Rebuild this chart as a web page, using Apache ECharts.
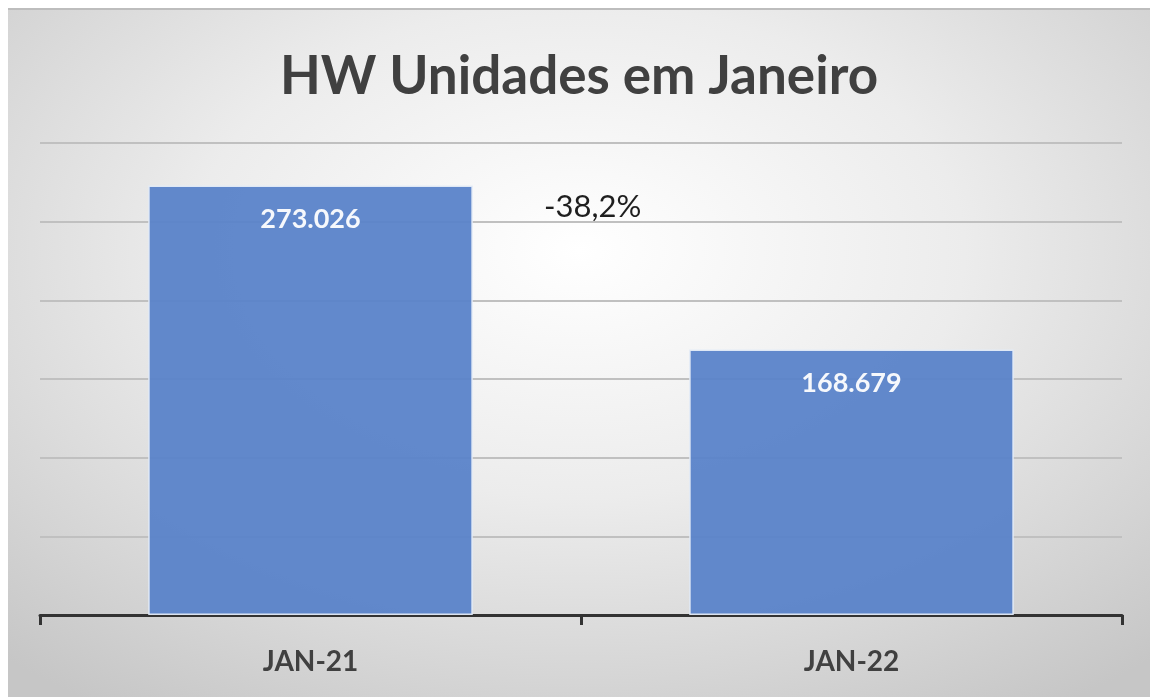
<!DOCTYPE html>
<html>
<head>
<meta charset="utf-8">
<script src="https://cdn.jsdelivr.net/npm/echarts@6/dist/echarts.min.js"></script>
<style>
  html, body { margin: 0; padding: 0; background: #fff; }
  #box {
    position: absolute; left: 8px; top: 8px; width: 1142px; height: 689px;
    background: radial-gradient(ellipse 75% 80% at 50% 35%, #ffffff 0%, #ececec 45%, #d4d4d4 80%, #c6c6c6 100%);
    border-top: 2px solid #bdbdbd;
    box-sizing: border-box;
  }
</style>
</head>
<body>
<div id="box"></div>
<script>
// dados
const categories = ["JAN-21", "JAN-22"];
const unidades = [273026, 168679];
const variacao = "-38,2%";
const titulo = "HW Unidades em Janeiro";

const fmt = (v) => v.toLocaleString("de-DE");

const myChart = echarts.init(document.getElementById("box"));

var option = {
  backgroundColor: "transparent",
  title: {
    text: titulo,
    left: "center",
    top: 35,
    textStyle: {
      fontFamily: "Lato",
      fontWeight: "bold",
      fontSize: 53,
      color: "#404040",
    },
  },
  grid: {
    left: 32,
    right: 28,
    top: 133,
    bottom: 82,
  },
  xAxis: {
    type: "category",
    data: categories,
    axisLine: { lineStyle: { color: "#333", width: 3 } },
    axisTick: { show: true, alignWithLabel: false, length: 10, lineStyle: { color: "#333", width: 3 } },
    axisLabel: {
      margin: 33,
      fontFamily: "Lato",
      fontWeight: "bold",
      fontSize: 28,
      color: "#404040",
    },
  },
  yAxis: {
    type: "value",
    min: 0,
    max: 300000,
    interval: 50000,
    axisLabel: { show: false },
    axisLine: { show: false },
    axisTick: { show: false },
    splitLine: { lineStyle: { color: "#c0c0c0", width: 2 } },
  },
  series: [
    {
      type: "bar",
      data: unidades,
      barCategoryGap: "40%",
      itemStyle: {
        color: "#5a83c9",
        opacity: 0.95,
        borderColor: "#e4ebf7",
        borderWidth: 1.5,
      },
      label: {
        show: true,
        position: "insideTop",
        distance: 20,
        formatter: (p) => fmt(p.value),
        fontFamily: "Lato",
        fontWeight: "bold",
        fontSize: 27,
        color: "#fff",
      },
    },
  ],
  graphic: [
    {
      type: "text",
      left: 536,
      top: 181,
      style: {
        text: variacao,
        font: "31px Lato",
        fill: "#1f1f1f",
      },
    },
  ],
};

myChart.setOption(option);
</script>
</body>
</html>
